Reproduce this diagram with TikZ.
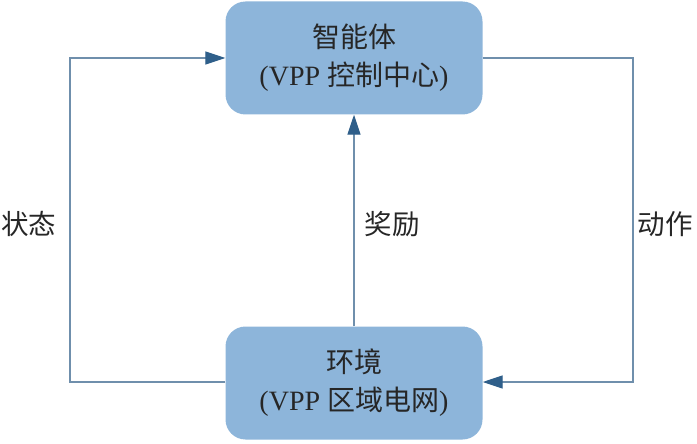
\documentclass[tikz,border=0pt]{standalone}
\usepackage{fontspec}
\setmainfont{Liberation Serif}
\newfontfamily\cjk{Noto Sans CJK SC}[BoldFont={Noto Sans CJK SC}]
\usetikzlibrary{arrows.meta}
\definecolor{boxfill}{HTML}{8DB5DA}
\definecolor{linec}{HTML}{6F8FAC}
\definecolor{tipc}{HTML}{2F5F8A}
\tikzset{
  box/.style={draw=none, fill=boxfill, rounded corners=20pt, minimum width=257pt, minimum height=113pt, inner sep=0pt, align=center, font=\fontsize{28}{38}\selectfont, text=black!85},
  conn/.style={draw=linec, line width=1.3pt, -{Triangle[length=20pt,width=13pt,fill=tipc,color=tipc]}},
  lbl/.style={font=\fontsize{27.5}{30}\selectfont\cjk, text=black!85}
}
\begin{document}
\begin{tikzpicture}[x=1pt,y=-1pt]
\useasboundingbox (0,0) rectangle (697,444);
\node[box] (agent) at (354,58) {{\cjk 智能体}\\(VPP {\cjk 控制中心})};
\node[box] (env) at (354,383) {{\cjk 环境}\\(VPP {\cjk 区域电网})};
\coordinate (lb) at (70,382);
\coordinate (lt) at (70,58);
\coordinate (rt) at (633,58);
\coordinate (rb) at (633,382);
\draw[conn] (env.west |- lb) -- (lb) -- (lt) -- (agent.west |- lt);
\draw[conn] (agent.east |- rt) -- (rt) -- (rb) -- (env.east |- rb);
\draw[conn] (env.north) -- (agent.south);
\node[lbl] (s) at (29,224) {状态};
\node[lbl] (r) at (392,224) {奖励};
\node[lbl] (a) at (665,224) {动作};
\end{tikzpicture}
\end{document}
